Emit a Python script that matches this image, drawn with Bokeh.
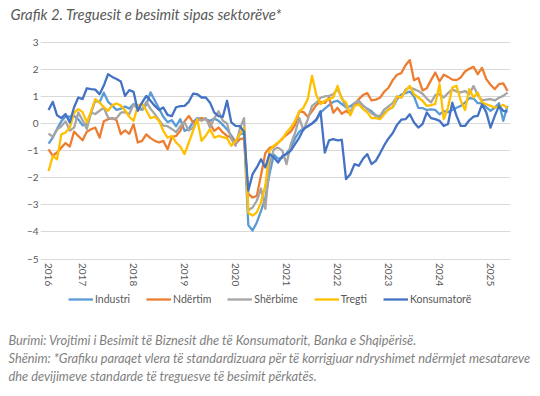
import math
from bokeh.plotting import figure
from bokeh.models import Range1d, FixedTicker, Legend, LegendItem, Title
from bokeh.embed import file_html
from bokeh.resources import INLINE

# ---------------- data ----------------
months = []
_y, _m = 2016, 5
for _ in range(109):
    months.append(f"{_y}-{_m:02d}")
    _m += 1
    if _m > 12:
        _m = 1
        _y += 1

industri = [-0.74, -0.52, -0.2, 0.08, 0.26, 0.25, 0.28, 0.15, -0.07, 0.0,
            0.4, 0.85, 0.78, 1.14, 0.8, 0.66, 0.5, 0.55, 0.63, 0.55,
            0.72, 0.66, 0.5, 0.7, 1.15, 0.85, 0.55, 0.25, 0.05, 0.12,
            -0.1, 0.16, -0.27, -0.2, 0.05, 0.2, 0.18, 0.15, 0.1, 0.18,
            0.1, -0.05, -0.22, -0.45, -0.68, -0.4, -0.35, -3.75, -3.95, -3.65,
            -3.22, -2.75, -1.85, -1.15, -1.3, -1.27, -1.1, -0.9, -0.55, -0.3,
            -0.18, -0.1, 0.0, 0.12, 0.4, 0.55, 0.68, 0.8, 0.84, 0.72,
            0.6, 0.63, 0.75, 0.73, 0.65, 0.55, 0.45, 0.3, 0.22, 0.38,
            0.52, 0.6, 0.9, 1.07, 1.12, 1.18, 1.0, 0.58, 0.57, 0.5,
            0.52, 0.5, 0.34, 0.46, 0.42, 0.5, 0.58, 0.65, 0.77, 0.94,
            0.92, 0.75, 0.76, 0.6, 0.47, 0.58, 0.75, 0.1, 0.65]

ndertim = [-0.95, -1.19, -1.07, -0.89, -0.72, -0.85, -0.3, -0.46, -0.62, -0.3,
           -0.21, -0.15, -0.52, 0.08, 0.16, 0.2, 0.12, -0.39, -0.25, -0.38,
           -0.03, -0.7, -0.64, -0.4, -0.54, -0.64, -0.7, -0.64, -0.95, -0.5,
           -0.46, -0.27, 0.08, 0.28, 0.04, 0.1, 0.2, 0.15, 0.0, -0.27,
           -0.15, -0.33, -0.46, -0.52, -0.76, -0.58, -0.55, -2.6, -2.73, -2.67,
           -1.9, -1.1, -0.9, -0.85, -0.72, -0.55, -0.42, -0.3, -0.05, 0.45,
           0.42, 0.25, 0.45, 0.68, 0.8, 0.76, 0.95, 0.4, 0.58, 0.36,
           0.46, 0.36, 0.7, 0.9, 1.05, 1.12, 0.85, 0.88, 0.95, 1.18,
           1.32, 1.6, 1.8, 1.86, 2.15, 2.34, 1.6, 1.68, 1.22, 1.3,
           1.6, 1.88, 1.55, 1.8, 1.72, 1.62, 1.6, 1.7, 1.92, 2.02,
           2.09, 1.82, 2.05, 1.64, 1.43, 1.27, 1.45, 1.48, 1.2]

sherbime = [-0.37, -0.49, -0.22, -0.1, 0.08, -0.26, -0.15, 0.4, 0.12, -0.2,
            0.4, 0.35, 0.47, 0.58, 0.22, 0.16, 0.2, 0.4, 0.42, 0.35,
            0.7, 0.53, 0.5, 0.8, 0.54, 0.35, 0.12, -0.08, -0.1, -0.2,
            -0.32, -0.1, 0.04, -0.26, -0.15, 0.18, 0.1, 0.2, -0.15, 0.2,
            0.45, 0.1, 0.0, -0.58, -0.82, -0.2, 0.2, -3.2, -3.1, -2.85,
            -2.4, -3.15, -1.5, -0.95, -0.89, -1.0, -1.5, -0.76, -0.35, 0.2,
            -0.25, 0.15, 0.65, 0.77, 0.95, 1.0, 1.02, 1.08, 1.27, 0.96,
            0.6, 0.42, 0.76, 0.84, 0.66, 0.52, 0.38, 0.28, 0.28, 0.52,
            0.63, 0.76, 1.0, 0.96, 1.25, 1.33, 1.27, 1.2, 1.1, 0.92,
            0.78, 1.05, 1.08, 0.96, 1.12, 1.26, 1.18, 1.15, 1.2, 1.08,
            1.38, 1.05, 0.85, 0.88, 0.9, 0.85, 0.95, 1.02, 1.14]

tregti = [-1.75, -1.19, -1.32, -0.4, -0.33, -0.15, 0.4, 0.53, 0.42, 0.04,
          0.45, 0.9, 0.78, 0.6, 0.47, 0.68, 0.74, 0.66, 0.48, 0.25,
          0.1, 0.65, 0.74, 0.48, 0.2, 0.25, 0.1, -0.27, -0.52, -0.46,
          -0.7, -0.85, -1.13, -0.7, -0.27, 0.15, -0.64, -0.45, -0.21, -0.52,
          -0.46, -0.5, -0.55, -0.82, -0.64, -0.39, -0.15, -3.3, -3.4, -3.28,
          -2.9, -2.3, -1.0, -0.82, -0.7, -0.58, -0.33, -0.15, 0.1, 0.45,
          0.59, 0.9, 1.76, 1.05, 0.72, 0.84, 0.9, 0.96, 1.39, 0.9,
          0.77, 0.3, 0.65, 0.71, 0.53, 0.41, 0.2, 0.2, 0.16, 0.34,
          0.53, 0.6, 1.0, 0.96, 1.2, 1.39, 1.08, 0.96, 0.84, 0.65,
          0.68, 0.72, 1.45, 0.16, 0.59, 1.33, 1.39, 0.84, 0.5, 1.27,
          0.96, 1.14, 0.77, 0.71, 0.65, 0.59, 0.62, 0.69, 0.57]

konsumatore = [0.5, 0.8, 0.3, 0.2, 0.35, 0.04, 0.6, 0.96, 0.9, 1.3,
               1.27, 1.25, 1.08, 1.4, 1.82, 1.72, 1.64, 1.55, 1.02, 1.23,
               1.17, 0.47, 0.77, 1.02, 0.84, 0.65, 0.5, 0.59, 0.32, 0.27,
               0.6, 0.64, 0.65, 0.8, 1.1, 1.08, 0.96, 0.96, 0.77, 0.4,
               0.27, 0.25, 0.84, 0.04, -0.09, -0.1, -0.3, -2.48, -1.87, -1.62,
               -1.32, -1.62, -1.13, -1.25, -1.44, -1.2, -1.13, -1.0, -0.76, -0.52,
               -0.2, -0.1, 0.0, 0.15, 0.45, -1.07, -0.62, -0.58, -0.62, -0.6,
               -2.05, -1.87, -1.5, -1.56, -1.3, -1.13, -1.5, -1.38, -1.1, -0.8,
               -0.55, -0.35, -0.05, 0.14, 0.16, 0.34, 0.04, -0.15, -0.02, 0.41,
               0.2, 0.16, 0.1, -0.09, -0.02, 0.77, 0.28, -0.09, -0.09, 0.12,
               0.25, 0.28, 0.71, 0.41, -0.15, 0.28, 0.65, 0.47, 0.44]

series_names = ["Industri", "Ndërtim", "Shërbime", "Tregti", "Konsumatorë"]
series_values = [industri, ndertim, sherbime, tregti, konsumatore]
series_colors = ["#5B9BD5", "#ED7D31", "#A5A5A5", "#FFC000", "#4472C4"]
y_ticks = [-5, -4, -3, -2, -1, 0, 1, 2, 3]

title_text = "Grafik 2. Treguesit e besimit sipas sektorëve*"
note_lines = [
    "Burimi: Vrojtimi i Besimit të Biznesit dhe të Konsumatorit, Banka e Shqipërisë.",
    "Shënim: *Grafiku paraqet vlera të standardizuara për të korrigjuar ndryshimet ndërmjet mesatareve",
    "dhe devijimeve standarde të treguesve të besimit përkatës.",
]

x_idx = list(range(len(months)))
tick_pos = [i for i, m in enumerate(months) if i == 0 or m.endswith("-01")]
tick_lab = {i: months[i][:4] for i in tick_pos}

FONT = "Lato"
X0, X1 = -0.25, 108.7          # plotted data extent
px_per_unit = 463 / (X1 - X0)

# frame spans from just under the title down to the legend row;
# the x axis is drawn at y = -5
p = figure(frame_width=470, frame_height=301,
           x_range=Range1d(X0 - 7 / px_per_unit, X1), y_range=Range1d(-7.601, 3.506),
           output_backend="svg", toolbar_location=None,
           min_border_left=40, min_border_right=26, min_border_top=28, min_border_bottom=0)
p.outline_line_color = None
p.xgrid.grid_line_color = None
p.ygrid.grid_line_color = "#d9d9d9"
p.ygrid.grid_line_width = 1
p.ygrid.bounds = (X0, X1)
p.yaxis.ticker = FixedTicker(ticks=y_ticks)
p.yaxis.axis_line_color = None
p.yaxis.major_tick_line_color = None
p.yaxis.minor_tick_line_color = None
p.yaxis.major_tick_out = 0
p.yaxis.major_label_standoff = 2
p.xaxis.ticker = FixedTicker(ticks=tick_pos)
p.xaxis.major_label_overrides = tick_lab
p.xaxis.major_label_orientation = -math.pi / 2
p.xaxis.fixed_location = -5
p.xaxis.bounds = (X0, X1)
p.xaxis.axis_line_color = "#d9d9d9"
p.xaxis.major_tick_line_color = None
p.xaxis.minor_tick_line_color = None
p.xaxis.major_tick_out = 0
p.xaxis.major_tick_in = 0
p.xaxis.major_label_standoff = 4
for ax in (p.xaxis, p.yaxis):
    ax.major_label_text_font = FONT
    ax.major_label_text_font_size = "10px"
    ax.major_label_text_color = "#595959"

# title
p.title.text = title_text
p.title.align = "left"
p.title.vertical_align = "top"
p.title.offset = -30
p.title.standoff = 7
p.title.text_font = FONT
p.title.text_font_style = "italic"
p.title.text_font_size = "14.8px"
p.title.text_color = "#595959"

items = []
for name, vals, col in zip(series_names, series_values, series_colors):
    r = p.line(x_idx, vals, line_color=col, line_width=2.3, line_join="round")
    items.append(LegendItem(label=name, renderers=[r]))

legend = Legend(items=items, orientation="horizontal", location=(28, 24),
                glyph_width=25, glyph_height=12, label_height=12, label_standoff=2,
                spacing=16, padding=0, margin=0, border_line_color=None,
                background_fill_alpha=0,
                label_text_font=FONT, label_text_font_size="10.5px",
                label_text_color="#595959")
p.add_layout(legend, "center")

for k, line in enumerate(note_lines):
    t = Title(text=line, align="left", offset=-32, standoff=0,
              text_font=FONT, text_font_style="italic", text_font_size="12.8px",
              text_color="#7f7f7f")
    p.add_layout(t, "below")

open("out.html", "w").write(file_html(p, INLINE))
